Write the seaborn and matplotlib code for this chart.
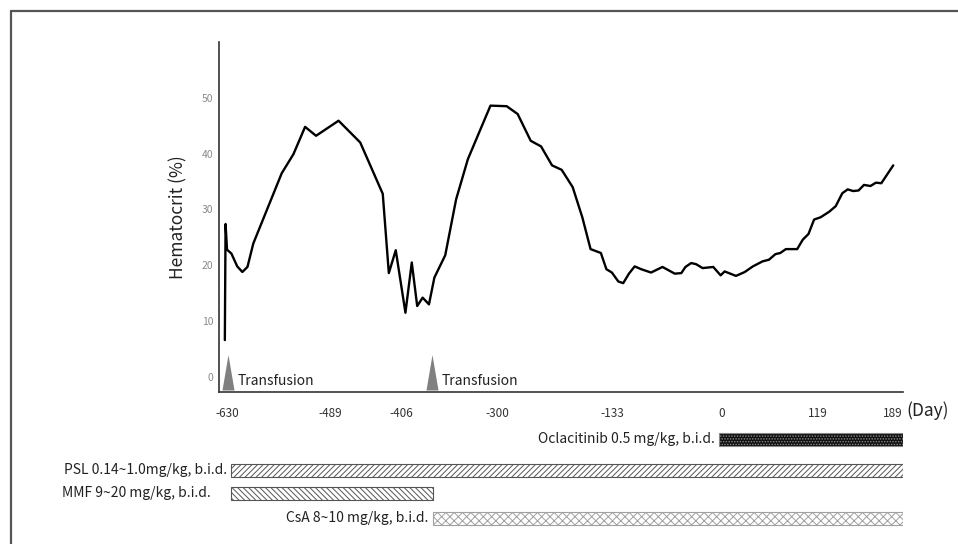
import numpy as np
import pandas as pd
import matplotlib
matplotlib.use("Agg")
import matplotlib.pyplot as plt
import seaborn as sns
from matplotlib.lines import Line2D
from matplotlib.transforms import blended_transform_factory

sns.set_style("white")
plt.rcParams['font.family'] = ['Noto Sans CJK JP', 'DejaVu Sans']
plt.rcParams['hatch.linewidth'] = 0.7

# === data ===
days = [-633, -632, -630, -624, -616, -609, -602, -594, -555, -539, -523, -508,
        -479, -454, -428, -421, -413, -402, -395, -389, -383, -376, -370, -358,
        -346, -333, -320, -308, -287, -271, -252, -237, -221, -207, -191, -177,
        -165, -150, -142, -134, -126, -120, -113, -106, -98, -86, -72, -57,
        -49, -44, -37, -31, -23, -10, -1, 4, 18, 29, 39, 51, 59, 67, 73, 80,
        94, 101, 108, 115, 122, 130, 136, 142, 147, 152, 157, 162, 168, 173,
        178, 189]
hct = [6.6, 27.4, 22.8, 22.1, 19.8, 18.8, 19.7, 23.9, 36.5, 39.9, 44.8, 43.2,
       45.9, 42.0, 32.8, 18.6, 22.7, 11.5, 20.5, 12.7, 14.2, 13.0, 17.8, 21.8,
       31.8, 39.0, 44.0, 48.6, 48.5, 47.1, 42.3, 41.3, 37.9, 37.1, 34.0, 28.6,
       22.9, 22.2, 19.3, 18.7, 17.1, 16.8, 18.5, 19.8, 19.3, 18.7, 19.7, 18.5,
       18.6, 19.7, 20.4, 20.2, 19.5, 19.7, 18.2, 18.9, 18.1, 18.8, 19.8, 20.7,
       21.0, 22.0, 22.2, 22.9, 22.9, 24.6, 25.6, 28.2, 28.6, 29.6, 30.6, 32.9,
       33.6, 33.3, 33.4, 34.4, 34.2, 34.8, 34.7, 37.9]

tick_days = [-630, -489, -406, -300, -133, 0, 119, 189]
transfusion_days = [-629, -373]

drugs = ["Oclacitinib 0.5 mg/kg, b.i.d.", "PSL 0.14~1.0mg/kg, b.i.d.",
         "MMF 9~20 mg/kg, b.i.d.", "CsA 8~10 mg/kg, b.i.d."]
drug_start = [-3, -625, -625, -372]
drug_end = [198, 198, -372, 198]

df = pd.DataFrame({"day": days, "hct": hct})

# --- the time axis in the original is not linear: piecewise scale through the ticks ---
tick_px = [227, 330, 402, 498, 613, 722, 818, 894]
anc_d = np.array([-5000] + tick_days + [5000], dtype=float)
anc_p = np.array([227 - 4370 / 1.369] + tick_px + [894 + 4811 / 0.921])


def fwd(x):
    return np.interp(x, anc_d, anc_p)


def inv(p):
    return np.interp(p, anc_p, anc_d)


W, H = 958, 544
fig = plt.figure(figsize=(W / 100, H / 100), dpi=100)
ax = fig.add_axes([219 / W, 1 - 392 / H, 684 / W, 350 / H])

sns.lineplot(data=df, x="day", y="hct", color="black", linewidth=1.7,
             estimator=None, ax=ax)

ax.set_xscale("function", functions=(fwd, inv))
ax.set_xlim(-641, 198)
ax.set_ylim(-2.7, 60)
ax.set_xticks(tick_days)
ax.set_xticklabels([str(d) for d in tick_days], fontsize=8.5, color="#333333")
ax.set_yticks(range(0, 51, 10))
ax.set_yticklabels([str(v) for v in range(0, 51, 10)], fontsize=7.5, color="#8a8a8a")
ax.tick_params(axis="x", length=0, pad=11)
ax.tick_params(axis="y", length=0, pad=4)
ax.set_xlabel("")
ax.set_ylabel("Hematocrit (%)", fontsize=12.5, color="#222222")
ax.yaxis.set_label_coords(-0.046, 0.5)
for s in ["top", "right"]:
    ax.spines[s].set_visible(False)
for s in ["left", "bottom"]:
    ax.spines[s].set_color("#333333")
    ax.spines[s].set_linewidth(1.2)

ax.text(1.005, -0.054, "(Day)", transform=ax.transAxes, ha="left", va="center",
        fontsize=12.5, color="#222222")

# transfusion markers
tri = [(-0.17, 0), (0.17, 0), (0, 1), (-0.17, 0)]
for d in transfusion_days:
    ax.scatter([d], [-2.4], marker=tri, s=2600, color="#808080", linewidths=0,
               zorder=3)
    ax.annotate("Transfusion", xy=(d, -0.8), xytext=(10, 0),
                textcoords="offset pixels", ha="left", va="center",
                fontsize=10, color="#222222")

# === treatment bars ===
ax2 = fig.add_axes([219 / W, 1 - 530 / H, 684 / W, 102 / H], sharex=ax)
row_pos = [439, 470, 493, 518]
faces = ["#111111", "white", "white", "white"]
hatches = ["......", "//////", "\\\\\\\\\\\\", "xxxx"]
hatch_cols = ["#888888", "#555555", "#555555", "#a0a0a0"]
label_left = [False, False, True, False]

widths = [e - s for s, e in zip(drug_start, drug_end)]
bars = ax2.barh(row_pos, widths, left=drug_start, height=13)
for b, fc, hc, hh in zip(bars, faces, hatch_cols, hatches):
    b.set_facecolor(fc)
    b.set_edgecolor(hc)
    b.set_hatch(hh)
    b.set_linewidth(0.8)

fig_y = blended_transform_factory(fig.transFigure, ax2.transData)
for name, s, y, lft in zip(drugs, drug_start, row_pos, label_left):
    if lft:
        ax2.text(62 / W, y, name, transform=fig_y,
                 ha="left", va="center", fontsize=10, color="#222222")
    else:
        ax2.annotate(name, xy=(s, y), xytext=(-4, 0), textcoords="offset pixels",
                     ha="right", va="center", fontsize=10, color="#222222")

ax2.set_ylim(530, 428)
ax2.axis("off")

# border of the cropped frame
fig.add_artist(Line2D([11 / W, 1], [1 - 11 / H, 1 - 11 / H], color="#555555", lw=1.6))
fig.add_artist(Line2D([11 / W, 11 / W], [0, 1 - 11 / H], color="#555555", lw=1.6))

fig.savefig("out.png", dpi=100)
